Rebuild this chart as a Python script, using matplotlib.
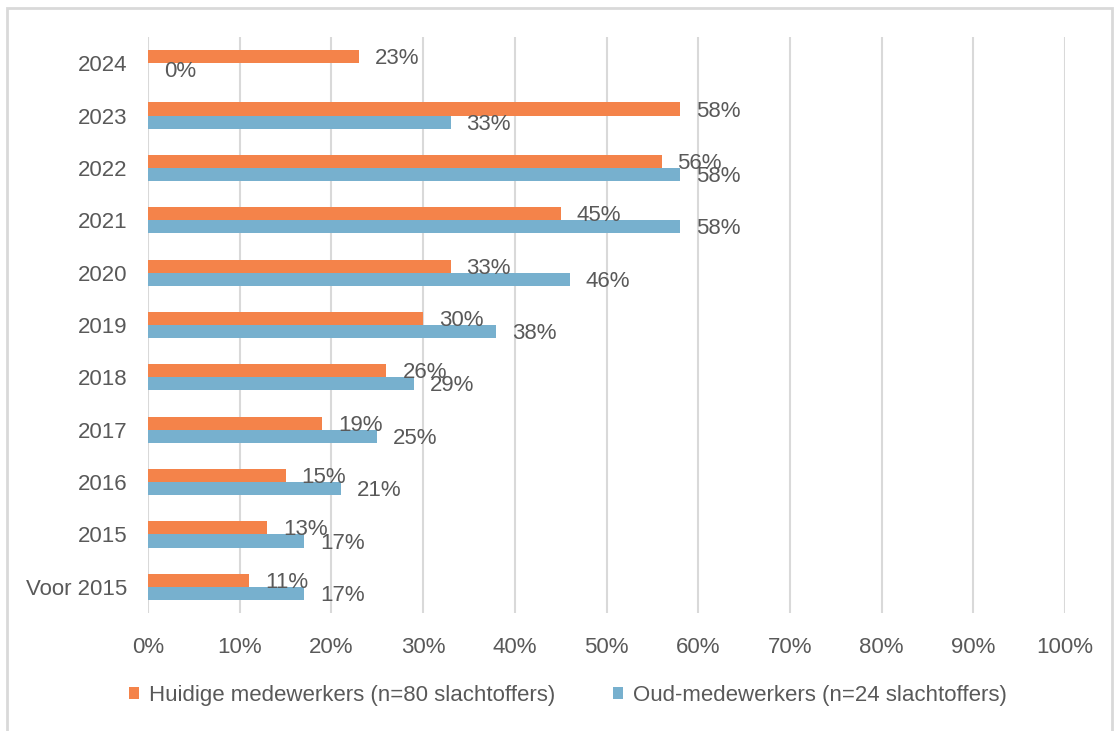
import matplotlib.pyplot as plt
from matplotlib.patches import Rectangle
import numpy as np

# Gegevens (van boven naar beneden zoals in de grafiek)
jaren = ['2024', '2023', '2022', '2021', '2020', '2019', '2018', '2017', '2016', '2015', 'Voor 2015']
huidige = [23, 58, 56, 45, 33, 30, 26, 19, 15, 13, 11]
oud = [0, 33, 58, 58, 46, 38, 29, 25, 21, 17, 17]
label_huidige = 'Huidige medewerkers (n=80 slachtoffers)'
label_oud = 'Oud-medewerkers (n=24 slachtoffers)'

ORANJE = '#F4834A'
BLAUW = '#77B0CE'
TEKST = '#595959'
RASTER = '#D9D9D9'
FS = 16

plt.rcParams['font.family'] = ['Liberation Sans', 'DejaVu Sans']

W, H = 1118, 731
fig = plt.figure(figsize=(W / 100, H / 100), dpi=100)
ax = fig.add_axes([148 / W, 1 - 613 / H, (1065 - 148) / W, (613 - 37) / H])

# rand rond de figuur
fig.patches.append(Rectangle((7 / W, -0.05), (1112 - 7) / W, 1.05 - 8 / H,
                             transform=fig.transFigure, fill=False,
                             edgecolor='#D9D9D9', lw=2))

n = len(jaren)
y = np.arange(n)[::-1]
h = 0.25

b1 = ax.barh(y + h / 2, huidige, height=h, color=ORANJE, label=label_huidige, zorder=3)
b2 = ax.barh(y - h / 2, oud, height=h, color=BLAUW, label=label_oud, zorder=3)

for bars, vals in ((b1, huidige), (b2, oud)):
    for bar, v in zip(bars, vals):
        yc = bar.get_y() + bar.get_height() / 2
        ax.annotate(f'{v}%', (v, yc), xytext=(11.5, -1.5), textcoords='offset points',
                    ha='left', va='center', fontsize=FS, color=TEKST, zorder=4)

ax.set_xlim(0, 100)
ax.set_ylim(-0.5, n - 0.5)
ax.set_xticks(np.arange(0, 101, 10))
ax.set_xticklabels([f'{t}%' for t in range(0, 101, 10)])
ax.set_yticks(y)
ax.set_yticklabels(jaren)
ax.tick_params(axis='both', length=0, labelsize=FS, labelcolor=TEKST)
ax.tick_params(axis='x', pad=17)
ax.tick_params(axis='y', pad=15)
ax.grid(axis='x', color=RASTER, lw=1.5, zorder=0)
ax.set_axisbelow(True)
for s in ax.spines.values():
    s.set_visible(False)

fig.legend(handles=[b1, b2], loc='center', bbox_to_anchor=(568 / W, 1 - 695 / H),
           ncol=2, frameon=False, fontsize=FS, labelcolor=TEKST,
           handlelength=0.45, handleheight=0.45, handletextpad=0.45, columnspacing=2.6)

fig.savefig('out.png', dpi=100)
